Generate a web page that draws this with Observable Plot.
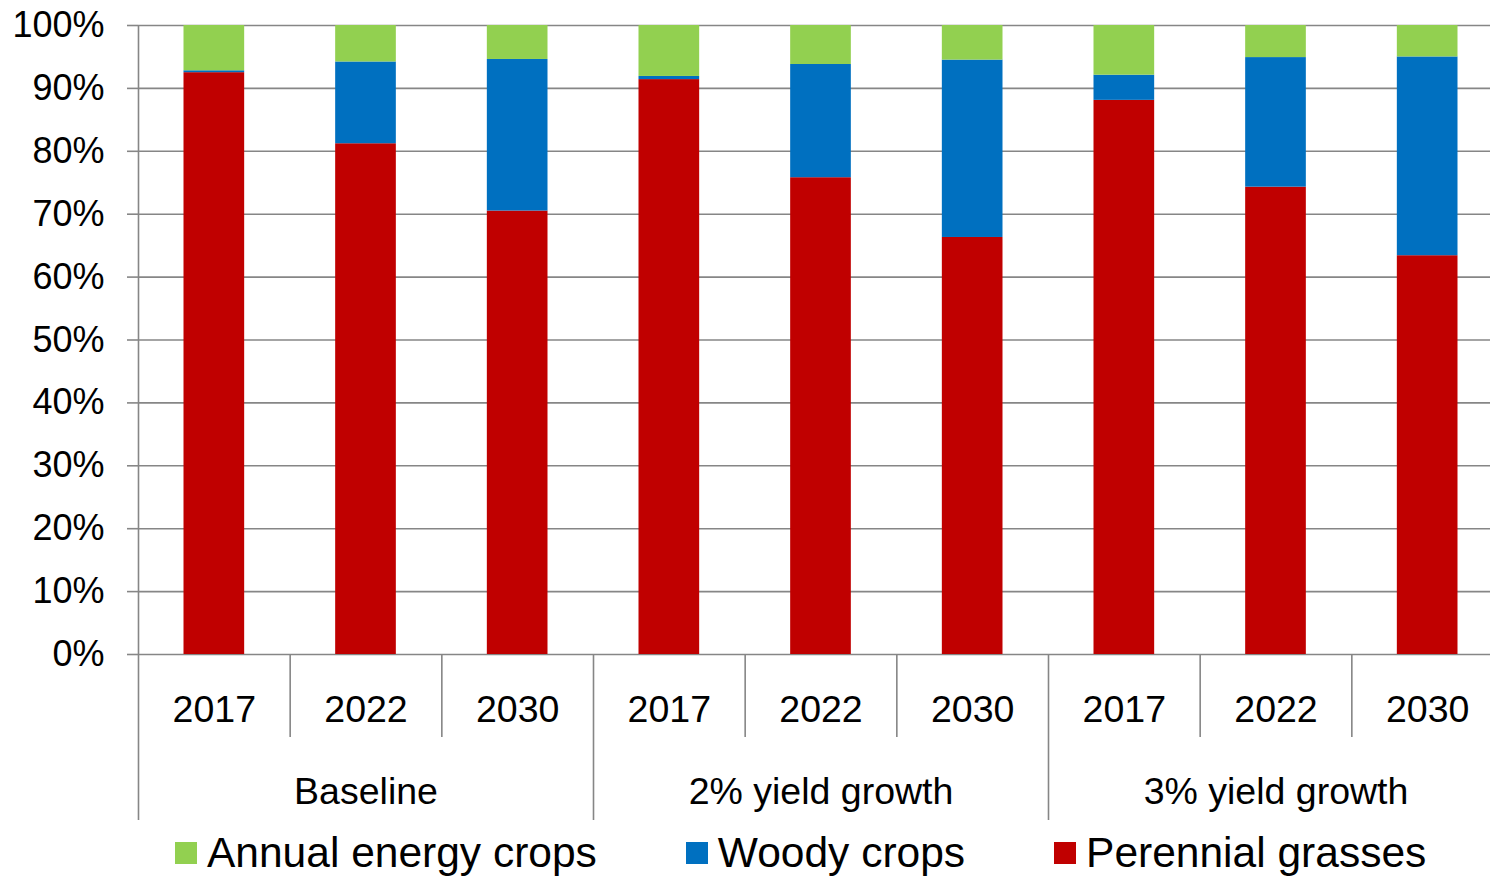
<!DOCTYPE html>
<html>
<head>
<meta charset="utf-8">
<script src="https://cdn.jsdelivr.net/npm/d3@7"></script>
<script src="https://cdn.jsdelivr.net/npm/@observablehq/plot@0.6"></script>
<style>
  html, body { margin: 0; padding: 0; background: #fff; }
  body { width: 1490px; height: 876px; overflow: hidden; font-family: "Liberation Sans", Arial, sans-serif; }
  #legend { display: flex; gap: 89px; padding-left: 175px; height: 46px; align-items: center; font-size: 42.5px; color: #000; }
  .item { display: flex; align-items: center; gap: 10px; white-space: nowrap; }
  .sw { width: 22px; height: 22px; display: inline-block; }
</style>
</head>
<body>
<div id="chart"></div>
<div id="legend"></div>
<script>
const scenarios = ["Baseline", "2% yield growth", "3% yield growth"];
const years = ["2017", "2022", "2030"];
const crops = ["Perennial grasses", "Woody crops", "Annual energy crops"];
const legendOrder = ["Annual energy crops", "Woody crops", "Perennial grasses"];
const cropColors = ["#C00000", "#0070C0", "#92D050"];
// values in %, order: Baseline 2017/2022/2030, 2% 2017/2022/2030, 3% 2017/2022/2030
const perennialGrasses = [92.5, 81.2, 70.5, 91.4, 75.8, 66.3, 88.1, 74.3, 63.4];
const woodyCrops      = [0.3, 13.0, 24.1, 0.5, 18.0, 28.2, 4.0, 20.6, 31.6];
const annualEnergy    = [7.2, 5.8, 5.4, 8.1, 6.2, 5.5, 7.9, 5.1, 5.0];
const yTicks = [0, 10, 20, 30, 40, 50, 60, 70, 80, 90, 100];

const keys = [];
scenarios.forEach(s => years.forEach(y => keys.push(s + "|" + y)));
const series = [perennialGrasses, woodyCrops, annualEnergy];
const data = [];
keys.forEach((k, i) => crops.forEach((c, j) => data.push({key: k, crop: c, value: series[j][i]})));

const W = 1490, H = 830;
const xLeft = 138, xRight = 1503;
const step = (xRight - xLeft) / keys.length;
const yearSepKeys = keys.filter((k, i) => i % 3 !== 0);
const groupSepKeys = keys.filter((k, i) => i % 3 === 0 && i > 0);
const groupMidKeys = keys.filter((k, i) => i % 3 === 1);
const gray = "#868686";

const chart = Plot.plot({
  width: W,
  height: H,
  marginLeft: xLeft,
  marginRight: 0,
  marginTop: 25,
  marginBottom: 10,
  style: {fontFamily: "'Liberation Sans', Arial, sans-serif", background: "white", overflow: "visible"},
  x: {type: "band", domain: keys, range: [xLeft, xRight], paddingInner: 0.6, paddingOuter: 0.3, round: false, axis: null},
  y: {domain: [0, 100], range: [654, 25], axis: null},
  color: {domain: crops, range: cropColors},
  marks: [
    Plot.gridY(yTicks, {stroke: gray, strokeOpacity: 1, strokeWidth: 1.6}),
    Plot.barY(data, Plot.stackY({x: "key", y: "value", fill: "crop", order: crops})),
    // left axis line, full height
    Plot.ruleX([keys[0]], {x: d => d, dx: -step / 2, stroke: gray, strokeWidth: 1.6}),
    // year separators
    Plot.ruleX(yearSepKeys, {x: d => d, dx: -step / 2, stroke: gray, strokeWidth: 1.6, insetTop: 629, insetBottom: 83}),
    // group separators
    Plot.ruleX(groupSepKeys, {x: d => d, dx: -step / 2, stroke: gray, strokeWidth: 1.6, insetTop: 629}),
    Plot.axisY(yTicks, {label: null, tickSize: 11, tickPadding: 23, fontSize: 36, stroke: gray, strokeWidth: 1.6, fill: "#000", tickFormat: d => d + "%"}),
    Plot.text(keys, {x: d => d, text: d => d.split("|")[1], frameAnchor: "bottom", dy: -111, fontSize: 37.5, fill: "#000", lineAnchor: "middle"}),
    Plot.text(groupMidKeys, {x: d => d, text: d => d.split("|")[0], frameAnchor: "bottom", dy: -29, fontSize: 37.5, fill: "#000", lineAnchor: "middle"})
  ]
});
document.getElementById("chart").appendChild(chart);

const legend = document.getElementById("legend");
legendOrder.forEach(c => {
  const item = document.createElement("div");
  item.className = "item";
  const sw = document.createElement("span");
  sw.className = "sw";
  sw.style.background = cropColors[crops.indexOf(c)];
  const t = document.createElement("span");
  t.textContent = c;
  item.appendChild(sw);
  item.appendChild(t);
  legend.appendChild(item);
});
</script>
</body>
</html>
